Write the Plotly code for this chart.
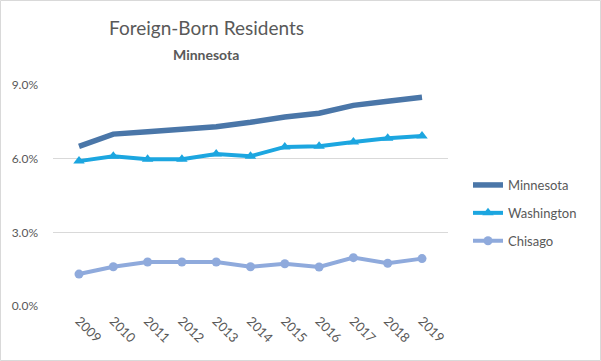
import plotly.graph_objects as go

years = ["2009", "2010", "2011", "2012", "2013", "2014", "2015", "2016", "2017", "2018", "2019"]
minnesota = [6.5, 7.0, 7.1, 7.2, 7.3, 7.48, 7.7, 7.85, 8.17, 8.34, 8.5]
washington = [5.9, 6.1, 5.98, 5.98, 6.19, 6.1, 6.48, 6.51, 6.68, 6.83, 6.92]
chisago = [1.3, 1.6, 1.79, 1.79, 1.79, 1.6, 1.72, 1.59, 1.97, 1.74, 1.93]
y_ticks = [0, 3, 6, 9]
y_tick_labels = ["0.0%", "3.0%", "6.0%", "9.0%"]

GREY = "#595959"
FONT = "Lato, 'Open Sans', sans-serif"

fig = go.Figure()
fig.add_trace(go.Scatter(x=years, y=minnesota, name="Minnesota", mode="lines",
                         line=dict(color="#4A76A8", width=5.5), legendgroup="a"))
fig.add_trace(go.Scatter(x=years, y=washington, name="Washington", mode="lines+markers",
                         line=dict(color="#1CA6E0", width=4),
                         marker=dict(symbol="triangle-up", size=10, color="#1CA6E0"), legendgroup="b"))
fig.add_trace(go.Scatter(x=years, y=chisago, name="Chisago", mode="lines+markers",
                         line=dict(color="#8FAADC", width=4),
                         marker=dict(symbol="circle", size=9, color="#8FAADC"), legendgroup="c"))

L, R, T, B = 53, 448, 85, 306
W, H = 601, 361
pw, ph = R - L, B - T

def px(x):
    return (x - L) / pw

def py(y):
    return (B - y) / ph

fig.update_layout(
    width=W, height=H,
    margin=dict(l=L, r=W - R, t=T, b=H - B),
    paper_bgcolor="white", plot_bgcolor="white",
    font=dict(family=FONT, color=GREY),
    showlegend=True,
    legend=dict(x=px(468), y=py(170), xanchor="left", yanchor="top",
                font=dict(size=13, color=GREY), tracegroupgap=8,
                bgcolor="rgba(0,0,0,0)"),
    xaxis=dict(type="category", tickangle=45, tickfont=dict(size=13, color=GREY),
               showgrid=False, showline=False, zeroline=False, ticks="", ticklabelstandoff=4),
    yaxis=dict(range=[0, 9], tickvals=y_ticks, ticktext=y_tick_labels,
               tickfont=dict(size=12, color=GREY), gridcolor="#D9D9D9", gridwidth=1,
               zeroline=False, showline=False, ticks="", ticklabelstandoff=14),
    annotations=[
        dict(text="Foreign-Born Residents", x=px(206), y=py(27), xref="paper", yref="paper",
             showarrow=False, font=dict(size=19, color=GREY, family=FONT), xanchor="center", yanchor="middle"),
        dict(text="<b>Minnesota</b>", x=px(206), y=py(54), xref="paper", yref="paper",
             showarrow=False, font=dict(size=14, color=GREY, family=FONT), xanchor="center", yanchor="middle"),
    ],
    shapes=[dict(type="rect", xref="paper", yref="paper",
                 x0=px(0.5), x1=px(W - 0.5), y0=py(H - 0.5), y1=py(0.5),
                 line=dict(color="#D9D9D9", width=1), layer="below")],
)

fig.write_html("out.html", config={"displayModeBar": False},
               post_script="document.body.style.margin='0';")
